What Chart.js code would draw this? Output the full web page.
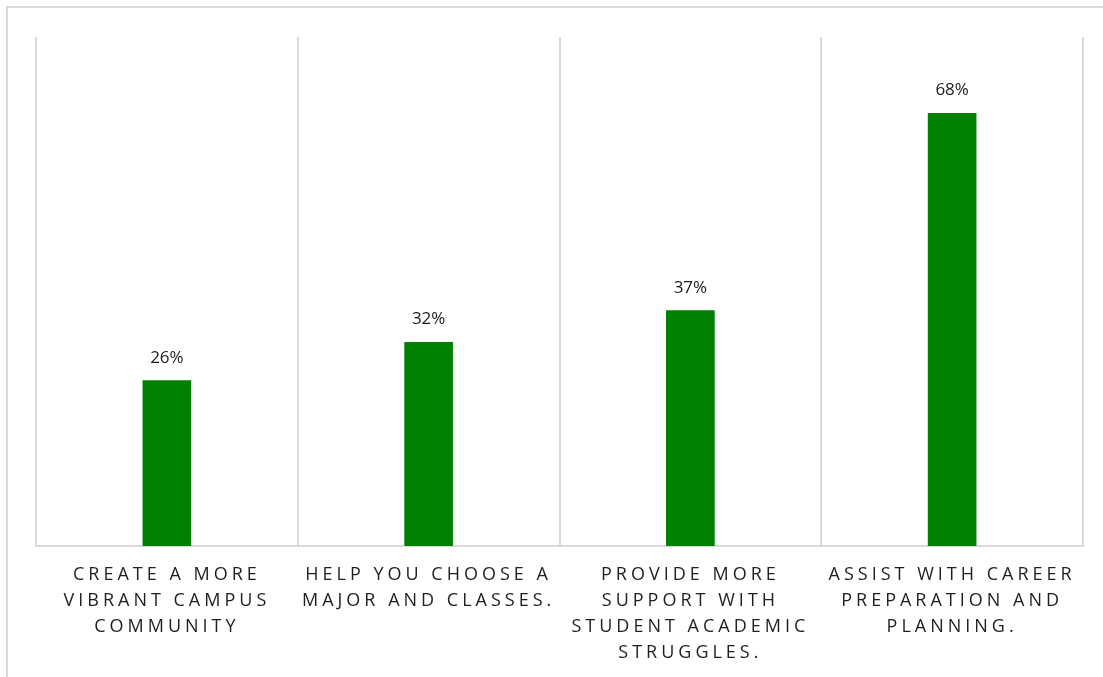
<!DOCTYPE html>
<html>
<head>
<meta charset="utf-8">
<script src="https://cdn.jsdelivr.net/npm/chart.js@4"></script>
<style>
  html, body { margin: 0; padding: 0; background: #ffffff; overflow: hidden; }
  #frame {
    position: absolute; left: 6px; top: 6px;
    width: 1097px; height: 671px;
    border-top: 2px solid #d9d9d9; border-left: 2px solid #d9d9d9;
    box-sizing: border-box;
  }
  #wrap { position: absolute; left: 0; top: 0; width: 1095px; height: 669px; }
</style>
</head>
<body>
<div id="frame"><div id="wrap"><canvas id="c"></canvas></div></div>
<script>
// Survey responses: share of students choosing each improvement
const categories = [
  ['CREATE A MORE', 'VIBRANT CAMPUS', 'COMMUNITY'],
  ['HELP YOU CHOOSE A', 'MAJOR AND CLASSES.'],
  ['PROVIDE MORE', 'SUPPORT WITH', 'STUDENT ACADEMIC', 'STRUGGLES.'],
  ['ASSIST WITH CAREER', 'PREPARATION AND', 'PLANNING.']
];
const percentages = [26, 32, 37, 68];
const yMax = 80;

const fontFamily = "'Open Sans', 'Lato', sans-serif";

// Spaced capitals on the category axis
const letterSpacingPlugin = {
  id: 'letterSpacing',
  beforeDraw(chart) { chart.ctx.letterSpacing = '4px'; },
  beforeDatasetsDraw(chart) { chart.ctx.letterSpacing = '0px'; }
};

// Percentage printed above each bar
const valueLabelPlugin = {
  id: 'valueLabels',
  afterDatasetsDraw(chart) {
    const ctx = chart.ctx;
    const meta = chart.getDatasetMeta(0);
    ctx.save();
    ctx.letterSpacing = '0px';
    ctx.font = "17px " + fontFamily;
    ctx.fillStyle = '#1a1a1a';
    ctx.textAlign = 'center';
    ctx.textBaseline = 'alphabetic';
    meta.data.forEach((bar, i) => {
      ctx.fillText(percentages[i] + '%', bar.x, bar.y - 18);
    });
    ctx.restore();
  }
};

new Chart(document.getElementById('c'), {
  type: 'bar',
  data: {
    labels: categories,
    datasets: [{
      data: percentages,
      backgroundColor: '#008000',
      borderWidth: 0,
      barThickness: 48
    }]
  },
  options: {
    responsive: true,
    maintainAspectRatio: false,
    animation: false,
    layout: { padding: { left: 28, top: 29, right: 20, bottom: 0 } },
    plugins: { legend: { display: false }, tooltip: { enabled: false } },
    scales: {
      x: {
        grid: { color: '#d9d9d9', lineWidth: 2, drawTicks: false, offset: true },
        border: { color: '#d9d9d9', width: 2 },
        ticks: {
          color: '#1f1f1f',
          font: { family: fontFamily, size: 18, lineHeight: 1.445 },
          padding: 16,
          maxRotation: 0,
          autoSkip: false
        },
        afterFit(scale) { scale.height = 131; }
      },
      y: {
        display: false,
        min: 0,
        max: yMax
      }
    }
  },
  plugins: [letterSpacingPlugin, valueLabelPlugin]
});
</script>
</body>
</html>
